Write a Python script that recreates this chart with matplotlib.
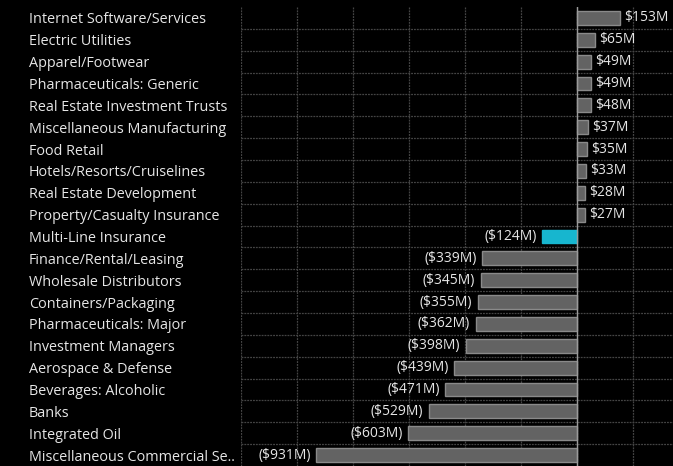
import matplotlib
matplotlib.use('Agg')
import matplotlib.pyplot as plt

sectors = ['Internet Software/Services', 'Electric Utilities', 'Apparel/Footwear',
           'Pharmaceuticals: Generic', 'Real Estate Investment Trusts',
           'Miscellaneous Manufacturing', 'Food Retail', 'Hotels/Resorts/Cruiselines',
           'Real Estate Development', 'Property/Casualty Insurance', 'Multi-Line Insurance',
           'Finance/Rental/Leasing', 'Wholesale Distributors', 'Containers/Packaging',
           'Pharmaceuticals: Major', 'Investment Managers', 'Aerospace & Defense',
           'Beverages: Alcoholic', 'Banks', 'Integrated Oil', 'Miscellaneous Commercial Se..']
flows = [153, 65, 49, 49, 48, 37, 35, 33, 28, 27, -124, -339, -345, -355, -362,
         -398, -439, -471, -529, -603, -931]
highlight = 'Multi-Line Insurance'

plt.rcParams['font.family'] = ['Open Sans', 'DejaVu Sans']

fig = plt.figure(figsize=(6.73, 4.66), dpi=100, facecolor='black')
ax = fig.add_axes([241 / 673, 0, 1 - 241 / 673, 1 - 7 / 466], facecolor='black')

y = list(range(len(sectors)))
colors = ['#17b6cf' if s == highlight else '#636363' for s in sectors]
edges = ['#17b6cf' if s == highlight else '#8a8a8a' for s in sectors]
ax.barh(y, flows, height=0.64, color=colors, edgecolor=edges, linewidth=1, zorder=3)

for yi, v in zip(y, flows):
    if v >= 0:
        ax.annotate(f'${v}M', (v, yi), xytext=(3, 0), textcoords='offset points',
                    ha='left', va='center', color='#e6e6e6', fontsize=10, zorder=4)
    else:
        ax.annotate(f'(${-v}M)', (v, yi), xytext=(-4, 0), textcoords='offset points',
                    ha='right', va='center', color='#e6e6e6', fontsize=10, zorder=4)

ax.set_xlim(-1200, 342)
ax.set_ylim(len(sectors) - 0.5, -0.5)
ax.set_xticks(range(-1200, 201, 200))
ax.set_xticklabels([])
ax.set_yticks([i + 0.5 for i in y[:-1]], minor=True)
ax.set_yticks(y)
ax.set_yticklabels(sectors, color='#e6e6e6', fontsize=10.4, ha='left')
ax.tick_params(axis='y', which='both', length=0, pad=212 * 0.72)
ax.tick_params(axis='x', length=0)
ax.grid(True, axis='x', color='#444444', linestyle=(0, (1.5, 0.8)), linewidth=0.9, zorder=0)
ax.grid(True, axis='y', which='minor', color='#444444', linestyle=(0, (1.5, 0.8)), linewidth=0.9, zorder=0)
ax.axvline(0, color='#9a9a9a', linewidth=1, zorder=5)
for sp in ax.spines.values():
    sp.set_visible(False)

fig.savefig('out.png', dpi=100, facecolor='black')
